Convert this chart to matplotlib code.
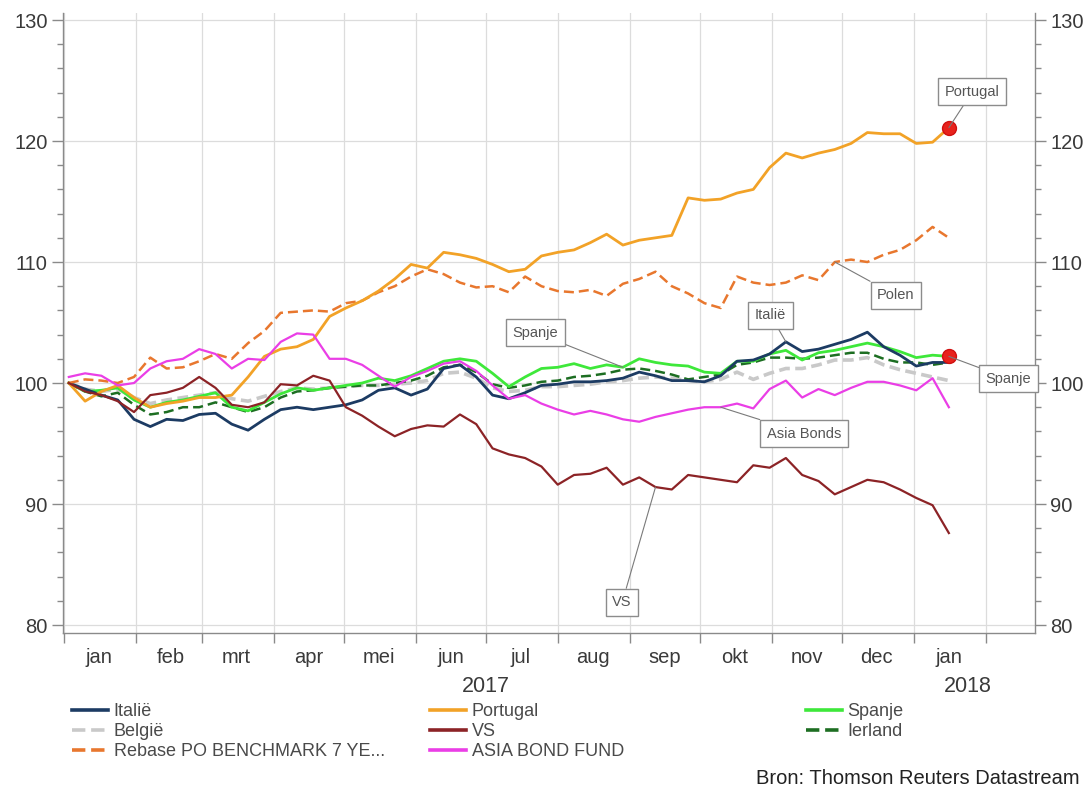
import matplotlib
matplotlib.use("Agg")
import matplotlib.pyplot as plt
import pandas as pd
from matplotlib.lines import Line2D

plt.rcParams['font.family'] = ['Liberation Sans', 'DejaVu Sans']

# Weekly index levels (start = 100)
dates = pd.date_range('2017-01-03', periods=55, freq='7D')

italie = [100.0, 99.5, 99.0, 98.6, 97.0, 96.4, 97.0, 96.9, 97.4, 97.5, 96.6, 96.1, 97.0, 97.8,
          98.0, 97.8, 98.0, 98.2, 98.6, 99.4, 99.6, 99.0, 99.5, 101.2, 101.5, 100.5, 99.0, 98.7,
          99.2, 99.8, 99.9, 100.1, 100.1, 100.2, 100.4, 100.9, 100.6, 100.2, 100.2, 100.1, 100.6,
          101.8, 101.9, 102.4, 103.4, 102.6, 102.8, 103.2, 103.6, 104.2, 103.0, 102.3, 101.4,
          101.7, 101.7]
belgie = [100.0, 99.5, 99.3, 99.5, 98.8, 98.3, 98.6, 98.8, 99.0, 99.2, 98.7, 98.5, 98.9, 99.3,
          99.6, 99.5, 99.6, 99.7, 99.8, 99.8, 99.9, 100.0, 100.2, 100.8, 100.9, 100.4, 99.6, 99.3,
          99.4, 99.7, 99.7, 99.8, 99.9, 100.1, 100.2, 100.4, 100.5, 100.4, 100.2, 100.1, 100.3,
          100.9, 100.3, 100.8, 101.2, 101.2, 101.5, 101.9, 101.9, 102.1, 101.5, 101.1, 100.8,
          100.5, 100.2]
polen = [100.0, 100.3, 100.2, 100.0, 100.5, 102.1, 101.2, 101.3, 101.8, 102.4, 102.0, 103.3,
         104.3, 105.8, 105.9, 106.0, 105.9, 106.6, 106.8, 107.5, 108.0, 108.8, 109.4, 109.0,
         108.3, 107.9, 108.0, 107.5, 108.8, 108.0, 107.6, 107.5, 107.7, 107.2, 108.2, 108.6,
         109.2, 108.0, 107.4, 106.6, 106.2, 108.8, 108.3, 108.1, 108.3, 108.9, 108.5, 110.0,
         110.2, 110.0, 110.6, 111.0, 111.8, 112.9, 112.0]
portugal = [100.0, 98.5, 99.3, 99.8, 98.8, 98.0, 98.3, 98.5, 98.8, 98.8, 99.0, 100.5, 102.2,
            102.8, 103.0, 103.6, 105.5, 106.2, 106.8, 107.6, 108.6, 109.8, 109.5, 110.8, 110.6,
            110.3, 109.8, 109.2, 109.4, 110.5, 110.8, 111.0, 111.6, 112.3, 111.4, 111.8, 112.0,
            112.2, 115.3, 115.1, 115.2, 115.7, 116.0, 117.8, 119.0, 118.6, 119.0, 119.3, 119.8,
            120.7, 120.6, 120.6, 119.8, 119.9, 121.1]
vs = [100.0, 99.3, 99.0, 98.5, 97.6, 99.0, 99.2, 99.6, 100.5, 99.6, 98.2, 98.0, 98.4, 99.9,
      99.8, 100.6, 100.2, 98.0, 97.3, 96.4, 95.6, 96.2, 96.5, 96.4, 97.4, 96.6, 94.6, 94.1,
      93.8, 93.1, 91.6, 92.4, 92.5, 93.0, 91.6, 92.2, 91.4, 91.2, 92.4, 92.2, 92.0, 91.8, 93.2,
      93.0, 93.8, 92.4, 91.9, 90.8, 91.4, 92.0, 91.8, 91.2, 90.5, 89.9, 87.6]
asia = [100.5, 100.8, 100.6, 99.8, 100.0, 101.2, 101.8, 102.0, 102.8, 102.4, 101.2, 102.0,
        101.9, 103.4, 104.1, 104.0, 102.0, 102.0, 101.5, 100.6, 99.7, 100.5, 101.0, 101.6,
        101.8, 101.0, 99.8, 98.7, 99.0, 98.3, 97.8, 97.4, 97.7, 97.4, 97.0, 96.8, 97.2, 97.5,
        97.8, 98.0, 98.0, 98.3, 97.9, 99.5, 100.2, 98.8, 99.5, 99.0, 99.6, 100.1, 100.1, 99.8,
        99.4, 100.4, 98.0]
spanje = [100.0, 99.3, 99.4, 99.6, 98.6, 98.0, 98.4, 98.6, 98.9, 99.2, 98.0, 97.7, 98.4, 99.1,
          99.6, 99.4, 99.6, 99.8, 100.0, 100.4, 100.2, 100.6, 101.2, 101.8, 102.0, 101.8, 100.8,
          99.7, 100.5, 101.2, 101.3, 101.6, 101.2, 101.5, 101.3, 102.0, 101.7, 101.5, 101.4,
          100.9, 100.8, 101.8, 101.8, 102.4, 102.7, 101.9, 102.5, 102.7, 103.0, 103.3, 103.0,
          102.6, 102.1, 102.3, 102.2]
ierland = [100.0, 99.3, 98.9, 99.2, 98.2, 97.4, 97.6, 98.0, 98.0, 98.4, 98.0, 97.6, 98.0, 98.8,
           99.3, 99.4, 99.6, 99.7, 99.8, 99.8, 100.0, 100.2, 100.6, 101.3, 101.5, 100.9, 99.9,
           99.6, 99.8, 100.1, 100.2, 100.5, 100.6, 100.8, 101.1, 101.2, 101.0, 100.7, 100.3,
           100.5, 100.7, 101.5, 101.7, 102.1, 102.1, 102.0, 102.1, 102.3, 102.5, 102.5, 102.0,
           101.7, 101.7, 101.5, 101.7]

month_labels = ['jan', 'feb', 'mrt', 'apr', 'mei', 'jun', 'jul', 'aug', 'sep', 'okt', 'nov',
                'dec', 'jan']
year_labels = ['2017', '2018']

TXT = '#3a3a3a'
GRID = '#dcdcdc'
AX = '#8a8a8a'

fig = plt.figure(figsize=(10.9, 7.91), dpi=100)
ax = fig.add_axes([63 / 1090, 1 - 633 / 791, (1035 - 63) / 1090, (633 - 13) / 791])

styles = [
    ('België', belgie, dict(color='#c9c9c9', lw=2.6, ls=(0, (3, 1.5)))),
    ('Ierland', ierland, dict(color='#1d6e22', lw=1.8, ls=(0, (4, 2)))),
    ('Spanje', spanje, dict(color='#3ee83a', lw=2.0, ls='-')),
    ('Italië', italie, dict(color='#1c3b63', lw=2.0, ls='-')),
    ('Rebase PO BENCHMARK 7 YE...', polen, dict(color='#e8772e', lw=1.8, ls=(0, (4, 2)))),
    ('Portugal', portugal, dict(color='#f2a227', lw=2.0, ls='-')),
    ('VS', vs, dict(color='#8c2326', lw=1.6, ls='-')),
    ('ASIA BOND FUND', asia, dict(color='#ea3ee6', lw=1.6, ls='-')),
]
handles = {}
for name, vals, st in styles:
    ln, = ax.plot(dates, vals, **st)
    handles[name] = ln

# end-point markers
ax.plot(dates[-1], portugal[-1], 'o', ms=10, color='#e8221c', mec='#d01010', zorder=6)
ax.plot(dates[-1], spanje[-1], 'o', ms=10, color='#e8221c', mec='#d01010', zorder=6)

# axes limits & spines
ax.set_ylim(79.34, 130.58)
ax.set_xlim(pd.Timestamp('2016-12-31 12:00'), pd.Timestamp('2018-02-22'))
ax.spines['top'].set_visible(False)
for s in ('left', 'right', 'bottom'):
    ax.spines[s].set_color(AX)
    ax.spines[s].set_linewidth(1.0)

ax.set_yticks(range(80, 131, 10))
ax.set_yticks(range(80, 131, 2), minor=True)
ax.tick_params(axis='y', which='major', length=8, width=1, color=AX, labelsize=14.5,
               labelcolor=TXT, right=True, labelright=True, pad=3)
ax.tick_params(axis='y', which='minor', length=4, width=1, color=AX, right=True)

month_starts = pd.date_range('2017-01-01', '2018-02-01', freq='MS')
ax.set_xticks(month_starts)
ax.set_xticklabels([''] * len(month_starts))
mids = [d + pd.Timedelta(days=15) for d in month_starts[:len(month_labels)]]
ax.set_xticks(mids, minor=True)
ax.set_xticklabels(month_labels, minor=True)
ax.tick_params(axis='x', which='major', length=7, width=1, color=AX)
ax.tick_params(axis='x', which='minor', length=0, labelsize=14.5, labelcolor=TXT, pad=11)

ax.grid(True, which='major', color=GRID, lw=0.9)
ax.set_axisbelow(True)

# year labels under month labels
for lab, d in zip(year_labels, [pd.Timestamp('2017-07-01'), pd.Timestamp('2018-01-24')]):
    ax.text(d, -0.086, lab, transform=ax.get_xaxis_transform(), ha='center', va='center',
            fontsize=15.5, color=TXT)

# callout boxes
box = dict(boxstyle='square,pad=0.45', fc='white', ec='#8c8c8c', lw=1.0)
arrow = dict(arrowstyle='-', color='#7a7a7a', lw=0.8, shrinkA=0, shrinkB=0)
callouts = [
    ('Portugal', dates[-1], portugal[-1], (17, 26)),
    ('Polen', dates[47], polen[47], (44, -24)),
    ('Italië', dates[44], italie[44], (-11, 19)),
    ('Spanje', dates[34], spanje[34], (-63, 25)),
    ('Spanje', dates[-1], spanje[-1], (43, -16)),
    ('Asia Bonds', dates[40], asia[40], (60, -19)),
    ('VS', dates[36], vs[36], (-24, -83)),
]
for lab, xd, yv, off in callouts:
    ax.annotate(lab, xy=(xd, yv), xytext=off, textcoords='offset points', ha='center',
                va='center', fontsize=10.5, color='#555555', bbox=box, arrowprops=arrow,
                annotation_clip=False, zorder=7)

# legend in three columns
cols = [
    (['Italië', 'België', 'Rebase PO BENCHMARK 7 YE...'], 72),
    (['Portugal', 'VS', 'ASIA BOND FUND'], 430),
    (['Spanje', 'Ierland'], 806),
]
for names, xpx in cols:
    hs = [Line2D([], [], color=handles[n].get_color(), lw=2.6,
                 ls=handles[n].get_linestyle()) for n in names]
    fig.legend(hs, names, loc='upper left', bbox_to_anchor=(xpx / 1090, 1 - 703 / 791),
               frameon=False, fontsize=13, labelcolor='#4a4a4a', handlelength=2.0,
               handletextpad=0.3, labelspacing=0.18, borderpad=0, borderaxespad=0)

fig.text(1080 / 1090, 1 - 779 / 791, 'Bron: Thomson Reuters Datastream', ha='right',
         va='center', fontsize=14.5, color='#222222')

fig.savefig('out.png', dpi=100)
